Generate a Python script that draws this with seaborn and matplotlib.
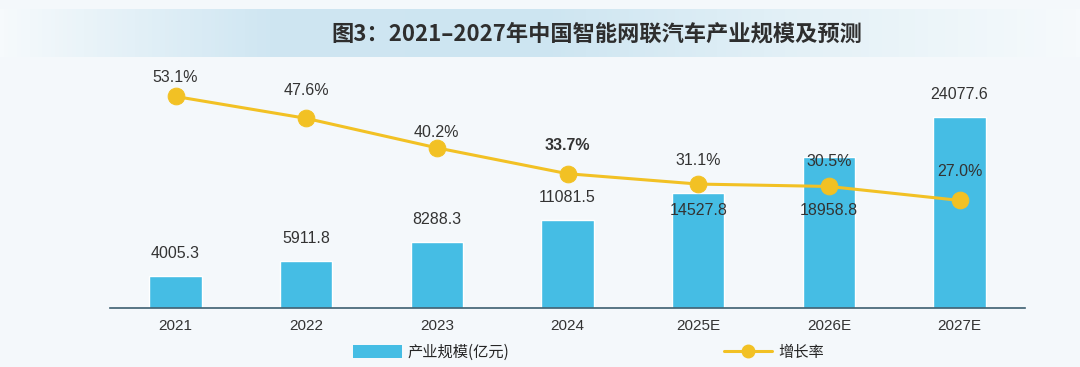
import matplotlib.pyplot as plt
import seaborn as sns
import pandas as pd
import numpy as np
from matplotlib.lines import Line2D
from matplotlib.patches import Patch

years = ['2021', '2022', '2023', '2024', '2025E', '2026E', '2027E']
scale = [4005.3, 5911.8, 8288.3, 11081.5, 14527.8, 18958.8, 24077.6]
growth = [53.1, 47.6, 40.2, 33.7, 31.1, 30.5, 27.0]

title = '图3：2021–2027年中国智能网联汽车产业规模及预测'
bar_name = '产业规模(亿元)'
line_name = '增长率'

bar_color = '#45bde4'
line_color = '#f2c124'
text_color = '#333333'
bg = '#f4f8fb'
num_font = ['Liberation Sans', 'Noto Sans CJK SC']

# label offsets above the markers (points)
pct_off = [14, 20, 11, 20, 17, 18, 21]

sns.set_style('white')
plt.rcParams['font.family'] = ['Noto Sans CJK SC', 'DejaVu Sans']

df = pd.DataFrame({'year': years, 'scale': scale, 'growth': growth})

fig = plt.figure(figsize=(10.8, 3.67), dpi=100)
fig.patch.set_facecolor(bg)

# title band with a soft gradient
band = fig.add_axes([0.0, 0.845, 1.0, 0.13])
grad = np.linspace(0, 1, 256).reshape(1, -1)
cmap = sns.blend_palette(['#f6fafc', '#cfe6f2', '#cde5f1', '#e4f1f7', '#f6fafc'], as_cmap=True)
band.imshow(grad, aspect='auto', cmap=cmap, extent=[0, 1, 0, 1])
band.set_axis_off()
band.text(0.553, 0.47, title, ha='center', va='center', fontsize=16,
          fontweight='bold', color='#2e2e2e')

ax = fig.add_axes([0.102, 0.161, 0.847, 0.676])
ax.set_facecolor('none')
sns.barplot(data=df, x='year', y='scale', color=bar_color, width=0.4,
            saturation=1, ax=ax)
ax.set_ylim(0, 31250)
ax.set_xlim(-0.5, 6.5)

for i, v in enumerate(scale):
    if years[i] in ('2025E', '2026E'):
        ax.annotate(f'{v:.1f}', (i, scale[4]), xytext=(0, -13), textcoords='offset points',
                    ha='center', va='center', fontsize=11.5, color=text_color,
                    family=num_font)
    else:
        ax.annotate(f'{v:.1f}', (i, v), xytext=(0, 16), textcoords='offset points',
                    ha='center', va='center', fontsize=11.5, color=text_color,
                    family=num_font)

ax2 = ax.twinx()
sns.lineplot(data=df, x='year', y='growth', sort=False, color=line_color, lw=2.2,
             marker='o', markersize=12, markeredgecolor=line_color, ax=ax2)
ax2.set_ylim(0, 62.3)

for i, g in enumerate(growth):
    ax2.annotate(f'{g:.1f}%', (i, g), xytext=(0, pct_off[i]), textcoords='offset points',
                 ha='center', va='center', fontsize=11.5, color=text_color,
                 family=num_font,
                 fontweight='bold' if years[i] == '2024' else 'normal')

for a in (ax, ax2):
    a.set_ylabel('')
    a.set_xlabel('')
    a.set_yticks([])
    for s in ('top', 'right', 'left'):
        a.spines[s].set_visible(False)
ax.spines['bottom'].set_color('#3d5f70')
ax.spines['bottom'].set_linewidth(1.2)
ax2.spines['bottom'].set_visible(False)
ax.tick_params(axis='x', length=0, pad=8, labelsize=11, labelcolor=text_color)
for t in ax.get_xticklabels():
    t.set_family(num_font)

handles = [Patch(facecolor=bar_color, edgecolor='none'),
           Line2D([0], [0], color=line_color, lw=2.2, marker='o', markersize=9)]
fig.legend(handles, [bar_name, line_name], ncol=2, loc='center',
           bbox_to_anchor=(0.545, 0.04), frameon=False, fontsize=11,
           columnspacing=14, handlelength=3.2, handleheight=0.9, handletextpad=0.4)

fig.savefig('out.png', dpi=100, facecolor=fig.get_facecolor())
